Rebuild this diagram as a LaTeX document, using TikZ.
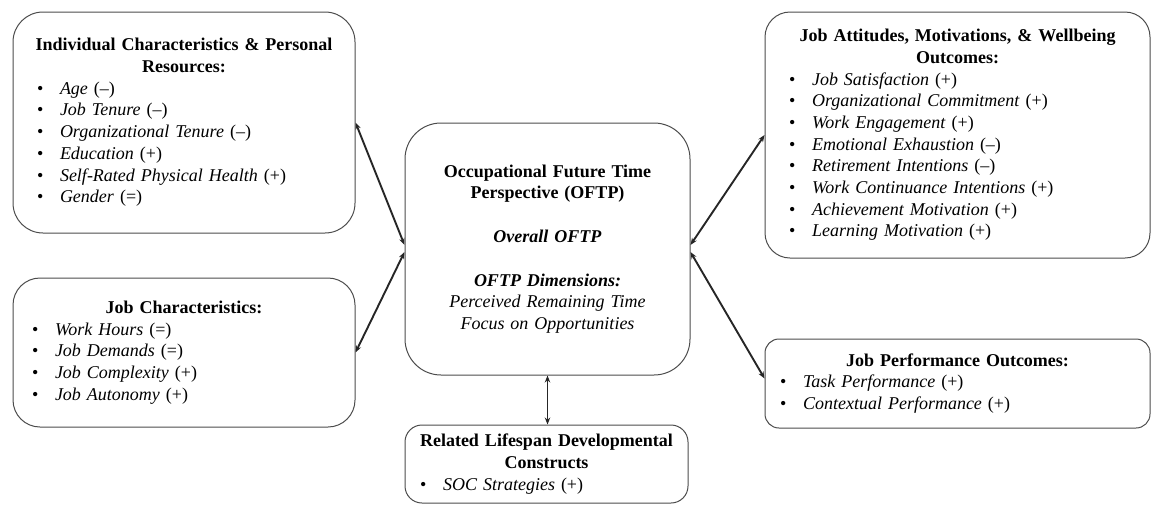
\documentclass[tikz,border=0pt]{standalone}
\usepackage{fontspec}
\setmainfont{Liberation Serif}
\usetikzlibrary{arrows.meta}
% one bullet line: indent, italic label, upright sign
\newcommand{\itm}[3][24pt]{\hspace*{#1}\makebox[23pt][l]{\textbullet}\textit{#2} (#3)}
\tikzset{
  card/.style={draw=black!70, line width=1pt, rounded corners=#1,
    inner xsep=0pt, inner ysep=2pt, align=left},
  card/.default=26pt,
  link/.style={<->, >={Stealth[length=7pt,width=5.5pt]}, line width=1.9pt, black!85},
}
\begin{document}
\begin{tikzpicture}[x=1pt, y=-1pt, font=\fontsize{18}{21.7}\selectfont]
  \useasboundingbox (0,0) rectangle (1155,504);
  \node[card=30pt, text width=342pt, minimum height=221pt] (indiv) at (184,122.5)
    {{\centering\bfseries Individual Characteristics \& Personal\\Resources:\par}
     \itm{Age}{--}\\
     \itm{Job Tenure}{--}\\
     \itm{Organizational Tenure}{--}\\
     \itm{Education}{+}\\
     \itm{Self-Rated Physical Health}{+}\\
     \itm{Gender}{=}};
  \node[card=27pt, text width=342pt, minimum height=149pt] (jobch) at (184,352.5)
    {{\centering\bfseries Job Characteristics:\par}
     \itm[19pt]{Work Hours}{=}\\
     \itm[19pt]{Job Demands}{=}\\
     \itm[19pt]{Job Complexity}{+}\\
     \itm[19pt]{Job Autonomy}{+}};
  \node[card=36pt, text width=285pt, minimum height=252pt, align=center] (oftp) at (547.5,249)
    {\textbf{Occupational Future Time}\\
     \textbf{Perspective (OFTP)}\\[22pt]
     \textbf{\textit{Overall OFTP}}\\[22pt]
     \textbf{\textit{OFTP Dimensions:}}\\
     \textit{Perceived Remaining Time}\\
     \textit{Focus on Opportunities}};
  \node[card=25pt, text width=385pt, minimum height=246pt] (attit) at (957.5,135)
    {{\centering\bfseries Job Attitudes, Motivations, \& Wellbeing\\Outcomes:\par}
     \itm{Job Satisfaction}{+}\\
     \itm{Organizational Commitment}{+}\\
     \itm{Work Engagement}{+}\\
     \itm{Emotional Exhaustion}{--}\\
     \itm{Retirement Intentions}{--}\\
     \itm{Work Continuance Intentions}{+}\\
     \itm{Achievement Motivation}{+}\\
     \itm{Learning Motivation}{+}};
  \node[card=14pt, text width=385pt, minimum height=89pt] (perf) at (957.5,383.5)
    {{\centering\bfseries Job Performance Outcomes:\par}
     \itm[15pt]{Task Performance}{+}\\
     \itm[15pt]{Contextual Performance}{+}};
  \node[card=17pt, text width=283pt, minimum height=78pt] (life) at (546.5,464)
    {{\centering\bfseries Related Lifespan Developmental\\Constructs\par}
     \itm[15pt]{SOC Strategies}{+}};
  \draw [link] (indiv.east) -- ([yshift=4pt]oftp.west);
  \draw [link] ([yshift=-3pt]oftp.west) -- (jobch.east);
  \draw [link] ([yshift=4pt]oftp.east) -- (attit.west);
  \draw [link] ([yshift=-3pt]oftp.east) -- ([yshift=5pt]perf.west);
  \draw [link] (oftp.south) -- (oftp.south |- life.north);
\end{tikzpicture}
\end{document}
